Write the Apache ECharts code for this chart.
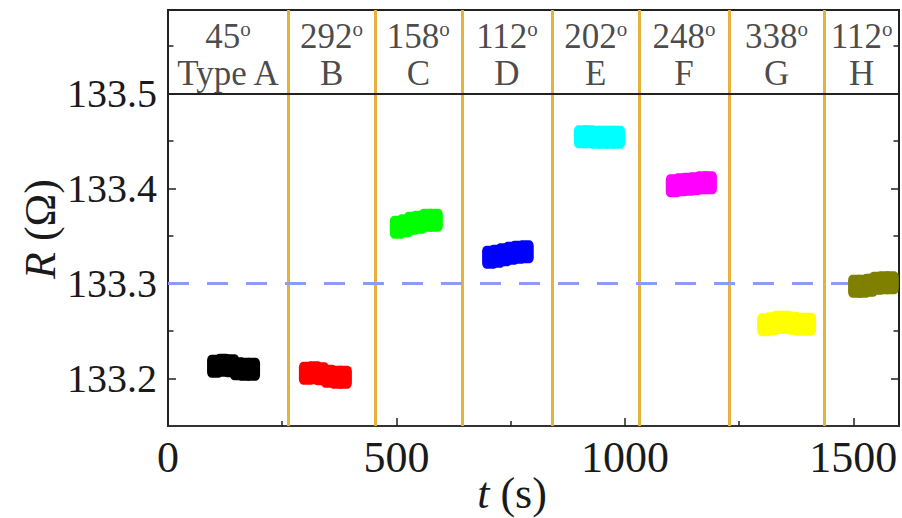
<!DOCTYPE html>
<html>
<head>
<meta charset="utf-8">
<script src="https://cdn.jsdelivr.net/npm/echarts@6/dist/echarts.min.js"></script>
<style>
  html, body { margin: 0; padding: 0; background: #ffffff; }
  #chart { width: 902px; height: 518px; }
</style>
</head>
<body>
<div id="chart"></div>
<script>
// Sample resistance R versus time t, one block per field orientation.
const segmentAngles = ['45', '292', '158', '112', '202', '248', '338', '112'];
const segmentNames  = ['Type A', 'B', 'C', 'D', 'E', 'F', 'G', 'H'];
const segmentColors = ['#000000', '#ff0000', '#00ff00', '#0000ff', '#00ffff', '#ff00ff', '#ffff00', '#808000'];

// Times (s) where the orientation was switched
const dividerTimes = [263, 453, 643, 841, 1031, 1228, 1436];

// Reference resistance level (dashed line)
const referenceR = 133.302;

// Measured points [t (s), R (Ohm)] for each orientation
const dataA = [[103, 133.2129], [120, 133.2140], [138, 133.2135], [153, 133.2103], [168, 133.2098], [184, 133.2098]];
const dataB = [[304, 133.2056], [320, 133.2061], [335, 133.2050], [352, 133.2024], [370, 133.2014], [385, 133.2014]];
const dataC = [[503, 133.3593], [519, 133.3608], [534, 133.3635], [549, 133.3645], [567, 133.3666], [584, 133.3666]];
const dataD = [[705, 133.3277], [720, 133.3287], [735, 133.3303], [751, 133.3319], [766, 133.3329], [783, 133.3335]];
const dataE = [[906, 133.4545], [921, 133.4545], [937, 133.4540], [952, 133.4540], [967, 133.4540], [983, 133.4540]];
const dataF = [[1107, 133.4029], [1123, 133.4040], [1138, 133.4045], [1153, 133.4051], [1169, 133.4061], [1184, 133.4061]];
const dataG = [[1307, 133.2566], [1322, 133.2577], [1337, 133.2593], [1352, 133.2593], [1368, 133.2582], [1383, 133.2572], [1401, 133.2572]];
const dataH = [[1506, 133.2972], [1521, 133.2972], [1536, 133.2982], [1552, 133.3003], [1567, 133.3008], [1582, 133.3008]];
const segmentData = [dataA, dataB, dataC, dataD, dataE, dataF, dataG, dataH];

// Axis ranges and ticks
const tMin = 0, tMax = 1600;
const rMin = 133.15, rMax = 133.588;
const xMajorTicks = [0, 500, 1000, 1500];
const xMinorTicks = [250, 750, 1250];
const yMajorTicks = [133.2, 133.3, 133.4, 133.5];
const yMinorTicks = [133.25, 133.35, 133.45, 133.55];

// Header band: separator level and the level the two-line captions sit at
const headerLineR = 133.5;
const headerLabelR = 133.5406;

const FONT = 'Liberation Serif, Times New Roman, serif';
const INK = '#1a1a1a';

// Caption positions: middle of each time segment
const bounds = [tMin].concat(dividerTimes, [tMax]);
const captionPoints = segmentNames.map((name, i) => ({
  value: [(bounds[i] + bounds[i + 1]) / 2, headerLabelR],
  angle: segmentAngles[i],
  name: name
}));

const chart = echarts.init(document.getElementById('chart'), null, { renderer: 'svg' });

const blockSeries = segmentData.map((pts, i) => ({
  type: 'scatter',
  name: segmentNames[i],
  data: pts,
  symbol: 'roundRect',
  symbolSize: [16, 23],
  itemStyle: { color: segmentColors[i], opacity: 1 },
  z: 5,
  silent: true
}));

const tickLine = { color: '#222222', width: 1.5 };
const tickAxisCommon = {
  type: 'value',
  splitLine: { show: false },
  axisLine: { show: false },
  axisLabel: { show: false }
};

const option = {
  animation: false,
  backgroundColor: '#ffffff',
  textStyle: { fontFamily: FONT },
  grid: {
    left: 168, right: 3, top: 10, bottom: 92,
    outerBoundsMode: 'none',
    containLabel: false,
    show: true, borderColor: '#222222', borderWidth: 2,
    backgroundColor: 'transparent'
  },
  xAxis: [
    {
      type: 'value', min: tMin, max: tMax, position: 'bottom',
      splitLine: { show: false },
      axisLine: { show: true, lineStyle: { color: '#333333', width: 2 } },
      axisTick: { show: true, inside: true, length: 8, customValues: xMajorTicks, lineStyle: tickLine },
      axisLabel: { show: true, customValues: xMajorTicks, margin: 9, fontFamily: FONT, fontSize: 44, color: INK, formatter: v => String(v) },
      name: '{i|t} (s)',
      nameLocation: 'middle',
      nameGap: 45,
      nameMoveOverlap: false,
      nameTextStyle: {
        fontFamily: FONT, fontSize: 44, color: INK, padding: [0, 43, 0, 0],
        rich: { i: { fontFamily: FONT, fontSize: 44, fontStyle: 'italic', color: INK } }
      }
    },
    Object.assign({}, tickAxisCommon, {
      min: tMin, max: tMax, position: 'bottom',
      axisTick: { show: true, inside: true, length: 5, customValues: xMinorTicks, lineStyle: tickLine }
    })
  ],
  yAxis: [
    {
      type: 'value', min: rMin, max: rMax, position: 'left',
      splitLine: { show: false },
      axisLine: { show: true, lineStyle: { color: '#222222', width: 2 } },
      axisTick: { show: true, inside: true, length: 8, customValues: yMajorTicks, lineStyle: tickLine },
      axisLabel: { show: true, customValues: yMajorTicks, margin: 11, fontFamily: FONT, fontSize: 40, color: INK, formatter: v => v.toFixed(1) },
      name: '{i|R} (Ω)',
      nameLocation: 'middle',
      nameGap: 106,
      nameMoveOverlap: false,
      nameTextStyle: {
        fontFamily: FONT, fontSize: 44, color: INK, padding: [0, 22, 0, 0],
        rich: { i: { fontFamily: FONT, fontSize: 44, fontStyle: 'italic', color: INK } }
      }
    },
    Object.assign({}, tickAxisCommon, {
      min: rMin, max: rMax, position: 'left',
      axisTick: { show: true, inside: true, length: 5.5, customValues: yMinorTicks, lineStyle: tickLine }
    }),
    Object.assign({}, tickAxisCommon, {
      min: rMin, max: rMax, position: 'right',
      axisTick: { show: true, inside: true, length: 8, customValues: yMajorTicks, lineStyle: tickLine }
    }),
    Object.assign({}, tickAxisCommon, {
      min: rMin, max: rMax, position: 'right',
      axisTick: { show: true, inside: true, length: 5.5, customValues: yMinorTicks, lineStyle: tickLine }
    })
  ],
  series: [
    {
      // guide lines: orientation switches, header separator, reference level
      type: 'scatter',
      data: [],
      silent: true,
      z: 2,
      markLine: {
        silent: true,
        symbol: ['none', 'none'],
        label: { show: false },
        animation: false,
        data: dividerTimes.map(t => ({ xAxis: t, lineStyle: { color: '#e8b13c', width: 3, type: 'solid' } }))
          .concat([
            { yAxis: headerLineR, lineStyle: { color: '#222222', width: 2, type: 'solid' } },
            { yAxis: referenceR, lineStyle: { color: '#8c9bf7', width: 3, type: [21, 18] } }
          ])
      }
    },
    {
      // two-line captions in the header band
      type: 'scatter',
      data: captionPoints,
      symbolSize: 0,
      silent: true,
      z: 6,
      label: {
        show: true,
        position: 'inside',
        color: INK,
        fontFamily: FONT,
        fontSize: 35,
        textBorderWidth: 0,
        formatter: p => '{n|' + p.data.angle + '}{s|o}\n{n|' + p.data.name + '}',
        rich: {
          n: { fontFamily: FONT, fontSize: 35, lineHeight: 37, color: INK },
          s: { fontFamily: FONT, fontSize: 21, lineHeight: 21, color: INK, verticalAlign: 'top' }
        }
      }
    }
  ].concat(blockSeries)
};

chart.setOption(option);
</script>
</body>
</html>
